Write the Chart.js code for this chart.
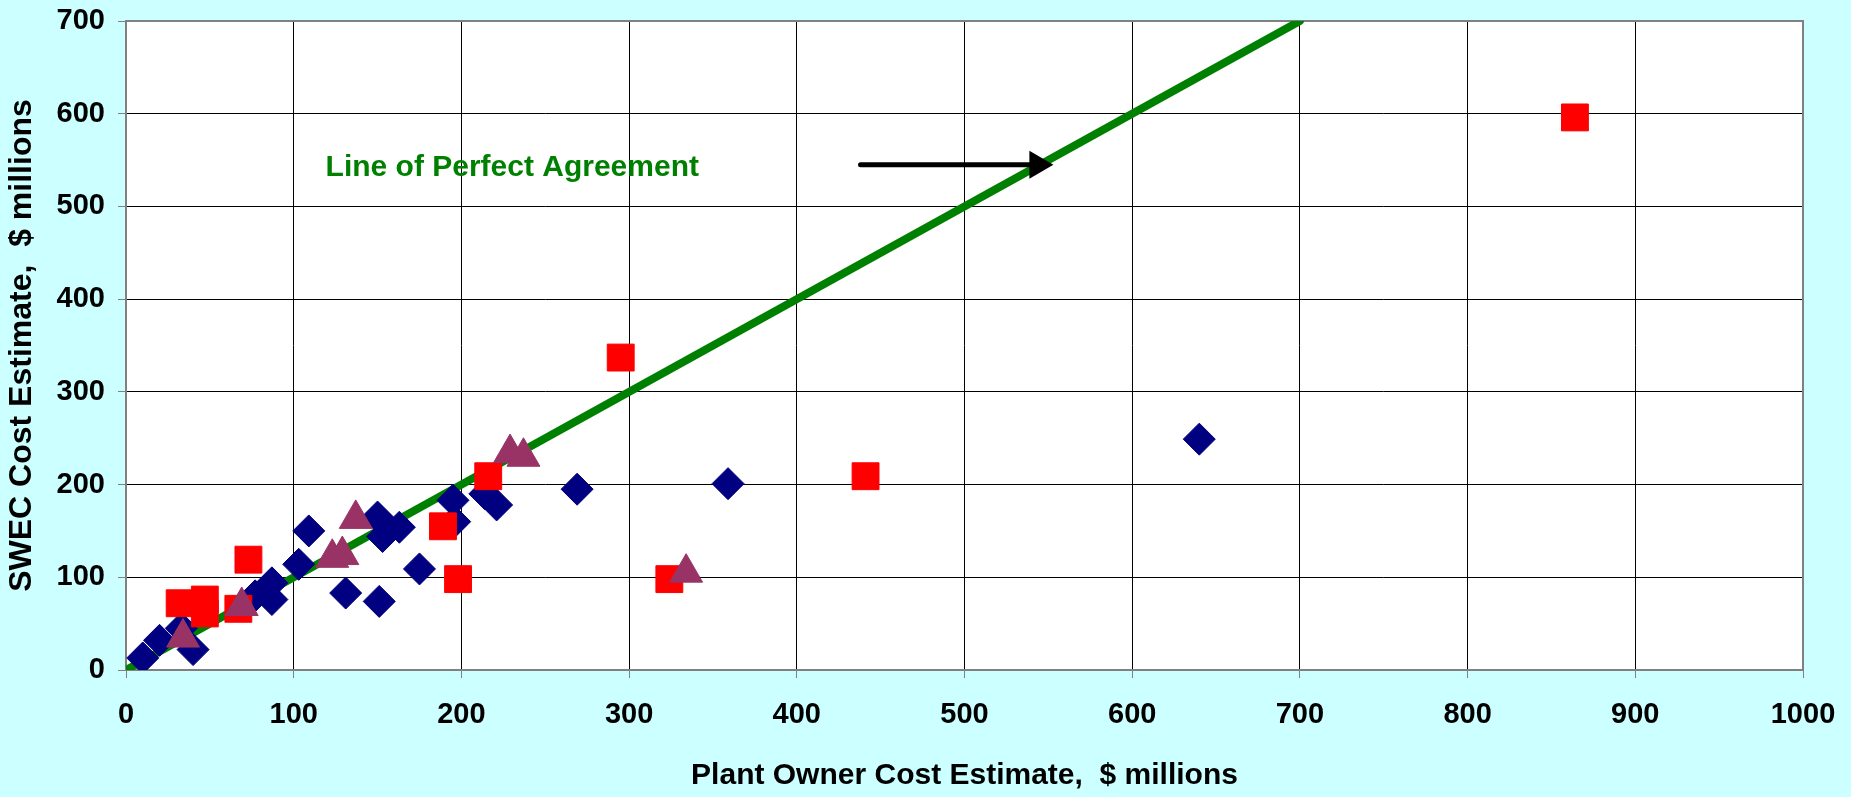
<!DOCTYPE html>
<html>
<head>
<meta charset="utf-8">
<script src="https://cdn.jsdelivr.net/npm/chart.js@4/dist/chart.umd.min.js"></script>
<style>
  html, body { margin: 0; padding: 0; background: #CCFFFF; }
  #wrap { width: 1851px; height: 797px; position: relative; }
</style>
</head>
<body>
<div id="wrap"><canvas id="c"></canvas></div>
<script>
// Axis ticks
const xTicks = [0, 100, 200, 300, 400, 500, 600, 700, 800, 900, 1000];
const yTicks = [0, 100, 200, 300, 400, 500, 600, 700];

// Plant owner estimate (x) vs SWEC estimate (y), $ millions
const groupAOwner = [10, 20, 33, 40, 77, 87, 87, 103, 109, 131, 150, 153, 163, 151, 175, 195, 196, 214, 221, 269, 359, 640];
const groupASwec  = [13, 32, 45, 22, 80, 94, 76, 114, 150, 83, 165, 144, 154, 74, 109, 183, 160, 190, 178, 195, 201, 249];

const groupBOwner = [32, 47, 47, 67, 73, 189, 198, 216, 295, 324, 441, 864];
const groupBSwec  = [72, 76, 61, 66, 119, 155, 98, 209, 337, 98, 209, 596];

const groupCOwner = [34, 69, 123, 129, 137, 229, 237, 334];
const groupCSwec  = [35, 69, 121, 124, 163, 234, 230, 105];

// Line of perfect agreement endpoints
const agreementOwner = [0, 700];
const agreementSwec  = [0, 700];

// Annotation text and pointer arrow, in data units
const annotationText = 'Line of Perfect Agreement';
const annotationAt = [119, 533];
const arrowFrom = [438, 545];
const arrowTo = [553, 545];

const toPoints = (xs, ys) => xs.map((x, i) => ({ x: x, y: ys[i] }));

const FONT = "'Liberation Sans', Arial, sans-serif";

const framePlugin = {
  id: 'frame',
  beforeDraw(chart) {
    const { ctx, chartArea: a } = chart;
    ctx.save();
    ctx.fillStyle = '#FFFFFF';
    ctx.fillRect(a.left, a.top, a.right - a.left, a.bottom - a.top);
    ctx.restore();
  },
  beforeDatasetsDraw(chart) {
    const { ctx, chartArea: a } = chart;
    ctx.save();
    ctx.strokeStyle = '#808080';
    ctx.lineWidth = 2;
    ctx.strokeRect(a.left, a.top, a.right - a.left, a.bottom - a.top);
    ctx.restore();
  },
  afterDatasetsDraw(chart) {
    const { ctx, scales } = chart;
    const xs = scales.x, ys = scales.y;
    ctx.save();
    // annotation label
    ctx.fillStyle = '#008000';
    ctx.font = 'bold 30px ' + FONT;
    ctx.textAlign = 'left';
    ctx.textBaseline = 'alphabetic';
    ctx.fillText(annotationText, xs.getPixelForValue(annotationAt[0]), ys.getPixelForValue(annotationAt[1]));
    // arrow
    const x0 = xs.getPixelForValue(arrowFrom[0]);
    const y0 = ys.getPixelForValue(arrowFrom[1]);
    const x1 = xs.getPixelForValue(arrowTo[0]);
    const y1 = ys.getPixelForValue(arrowTo[1]);
    const head = 24;
    ctx.strokeStyle = '#000000';
    ctx.fillStyle = '#000000';
    ctx.lineWidth = 5;
    ctx.lineCap = 'round';
    ctx.beginPath();
    ctx.moveTo(x0, y0);
    ctx.lineTo(x1 - head + 2, y1);
    ctx.stroke();
    ctx.beginPath();
    ctx.moveTo(x1, y1);
    ctx.lineTo(x1 - head, y1 - 14);
    ctx.lineTo(x1 - head, y1 + 14);
    ctx.closePath();
    ctx.fill();
    ctx.restore();
  }
};

new Chart(document.getElementById('c'), {
  type: 'scatter',
  data: {
    datasets: [
      {
        label: 'Line of Perfect Agreement',
        type: 'line',
        data: toPoints(agreementOwner, agreementSwec),
        borderColor: '#008000',
        borderWidth: 8,
        borderCapStyle: 'round',
        pointRadius: 0,
        fill: false,
        order: 4
      },
      {
        label: 'Group A',
        data: toPoints(groupAOwner, groupASwec),
        pointStyle: 'rectRot',
        pointRadius: 16,
        backgroundColor: '#000080',
        borderColor: '#000080',
        borderWidth: 1,
        order: 3
      },
      {
        label: 'Group B',
        data: toPoints(groupBOwner, groupBSwec),
        pointStyle: 'rect',
        pointRadius: 19,
        backgroundColor: '#FF0000',
        borderColor: '#FF0000',
        borderWidth: 1,
        order: 2
      },
      {
        label: 'Group C',
        data: toPoints(groupCOwner, groupCSwec),
        pointStyle: 'triangle',
        pointRadius: 19,
        backgroundColor: '#993366',
        borderColor: '#993366',
        borderWidth: 1,
        order: 1
      }
    ]
  },
  options: {
    responsive: true,
    maintainAspectRatio: false,
    animation: false,
    layout: { padding: { left: 0, top: 21, right: 48, bottom: 0 } },
    plugins: {
      legend: { display: false },
      tooltip: { enabled: false }
    },
    scales: {
      x: {
        type: 'linear',
        min: 0,
        max: 1000,
        afterBuildTicks: (s) => { s.ticks = xTicks.map(v => ({ value: v })); },
        afterFit: (s) => { s.height = 127; s.paddingLeft = 0; s.paddingRight = 0; },
        grid: { color: '#000000', lineWidth: 1, tickLength: 8, tickColor: '#808080' },
        border: { display: false },
        ticks: {
          color: '#000000',
          font: { family: FONT, size: 29, weight: 'bold' },
          padding: 20,
          maxRotation: 0,
          callback: (v) => String(v)
        },
        title: {
          display: true,
          text: 'Plant Owner Cost Estimate,  $ millions',
          color: '#000000',
          font: { family: FONT, size: 30, weight: 'bold' },
          padding: { top: 0, bottom: 3 }
        }
      },
      y: {
        type: 'linear',
        min: 0,
        max: 700,
        afterBuildTicks: (s) => { s.ticks = yTicks.map(v => ({ value: v })); },
        afterFit: (s) => { s.width = 126; s.paddingTop = 0; s.paddingBottom = 0; },
        grid: { color: '#000000', lineWidth: 1, tickLength: 8, tickColor: '#808080' },
        border: { display: false },
        ticks: {
          color: '#000000',
          font: { family: FONT, size: 29, weight: 'bold' },
          padding: 13,
          callback: (v) => String(v)
        },
        title: {
          display: true,
          text: 'SWEC Cost Estimate,  $ millions',
          color: '#000000',
          font: { family: FONT, size: 32, weight: 'bold' },
          padding: { top: 3, bottom: 0 }
        }
      }
    }
  },
  plugins: [framePlugin]
});
</script>
</body>
</html>
